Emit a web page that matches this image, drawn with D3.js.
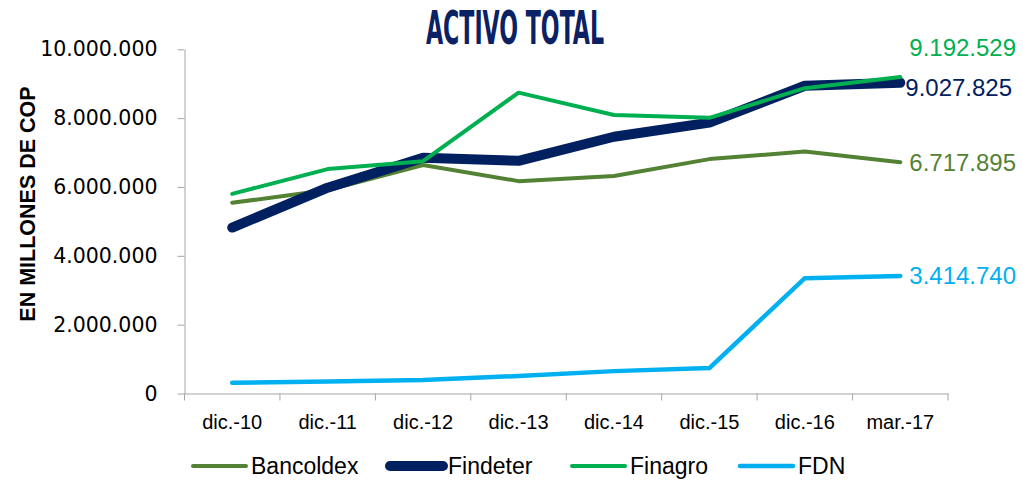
<!DOCTYPE html>
<html><head><meta charset="utf-8">
<script src="https://cdn.jsdelivr.net/npm/d3@7"></script>
<style>
html,body{margin:0;padding:0;background:#fff;}
svg{display:block;}
</style></head>
<body>
<svg id="chart" width="1023" height="482"></svg>
<script>
const categories = ["dic.-10","dic.-11","dic.-12","dic.-13","dic.-14","dic.-15","dic.-16","mar.-17"];
const bancoldex = [5540000, 5910000, 6640000, 6170000, 6320000, 6810000, 7030000, 6717895];
const findeter  = [4820000, 5980000, 6850000, 6760000, 7460000, 7870000, 8940000, 9027825];
const finagro   = [5800000, 6520000, 6750000, 8740000, 8090000, 8010000, 8870000, 9192529];
const fdn       = [310000, 350000, 390000, 510000, 650000, 740000, 3350000, 3414740];
const seriesNames = ["Bancoldex","Findeter","Finagro","FDN"];
const yTicks = [0, 2000000, 4000000, 6000000, 8000000, 10000000];
const title = "ACTIVO TOTAL";
const yTitle = "EN MILLONES DE COP";

const colors = ["#548235","#002060","#00B050","#00B0F0"];
const widths = [4, 10, 4, 4.5];
const labelDy = [0, 5, -29, 0];
const labelDx = [9, 5, 9, 9];

const svg = d3.select("#chart");
const x = d3.scaleBand().domain(categories).range([184.5, 948]).padding(0);
const y = d3.scaleLinear().domain([0, 10000000]).range([393.5, 49.3]);
const loc = d3.formatLocale({decimal:",", thousands:".", grouping:[3], currency:["",""]});
const fmt = loc.format(",d");

// title
svg.append("text").attr("x", 426).attr("y", 44)
  .attr("font-family", "'Liberation Sans Narrow','DejaVu Sans Condensed',sans-serif")
  .attr("font-weight", "bold").attr("font-size", 46)
  .attr("textLength", 178).attr("lengthAdjust", "spacingAndGlyphs")
  .attr("fill", "#0a2163").text(title);

// y axis
const yAxis = svg.append("g").attr("transform", "translate(184.5,0)")
  .call(d3.axisLeft(y).tickValues(yTicks).tickFormat(fmt).tickSizeOuter(0).tickSizeInner(7).tickPadding(20));
yAxis.select(".domain").attr("stroke", "#a6a6a6");
yAxis.selectAll(".tick line").attr("stroke", "#a6a6a6");
yAxis.selectAll(".tick text").attr("font-family", "'DejaVu Sans',sans-serif")
  .attr("font-size", 20.5).attr("fill", "#000");

// x axis
const xAxis = svg.append("g").attr("transform", "translate(0,393.5)")
  .call(d3.axisBottom(x).tickSize(0).tickPadding(21));
xAxis.select(".domain").attr("stroke", "#a6a6a6");
xAxis.selectAll(".tick text").attr("font-family", "'Liberation Sans',Arial,sans-serif")
  .attr("font-size", 20).attr("fill", "#000");
const bounds = categories.map(c => x(c)).concat([x.range()[1]]);
svg.append("g").selectAll("line").data(bounds).join("line")
  .attr("x1", d => d).attr("x2", d => d).attr("y1", 393.5).attr("y2", 400.5)
  .attr("stroke", "#a6a6a6");

// y title
svg.append("text").attr("transform", "translate(35,204) rotate(-90)")
  .attr("text-anchor", "middle").attr("font-family", "'Liberation Sans',Arial,sans-serif")
  .attr("font-weight", "bold").attr("font-size", 21.5).attr("fill", "#000").text(yTitle);

// lines
const data = [bancoldex, findeter, finagro, fdn];
const cx = c => x(c) + x.bandwidth() / 2;
const line = d3.line().x((d, i) => cx(categories[i])).y(d => y(d));
data.forEach((vals, k) => {
  svg.append("path").datum(vals).attr("d", line)
    .attr("fill", "none").attr("stroke", colors[k]).attr("stroke-width", widths[k])
    .attr("stroke-linejoin", "round").attr("stroke-linecap", "round");
});

// end labels
data.forEach((vals, k) => {
  const last = vals.length - 1;
  svg.append("text").attr("x", cx(categories[last]) + labelDx[k]).attr("y", y(vals[last]) + labelDy[k])
    .attr("dy", "0.35em").attr("font-family", "'Liberation Sans',Arial,sans-serif")
    .attr("font-size", 24).attr("fill", colors[k]).text(fmt(vals[last]));
});

// legend
const legendX = [193, 390, 572, 740];
const legend = svg.append("g");
seriesNames.forEach((n, k) => {
  legend.append("line").attr("x1", legendX[k]).attr("x2", legendX[k] + 53)
    .attr("y1", 466).attr("y2", 466).attr("stroke", colors[k])
    .attr("stroke-width", widths[k]).attr("stroke-linecap", "round");
  legend.append("text").attr("x", legendX[k] + 58).attr("y", 466).attr("dy", "0.35em")
    .attr("font-family", "'Liberation Sans',Arial,sans-serif").attr("font-size", 23)
    .attr("fill", "#000").text(n);
});
</script>
</body></html>
